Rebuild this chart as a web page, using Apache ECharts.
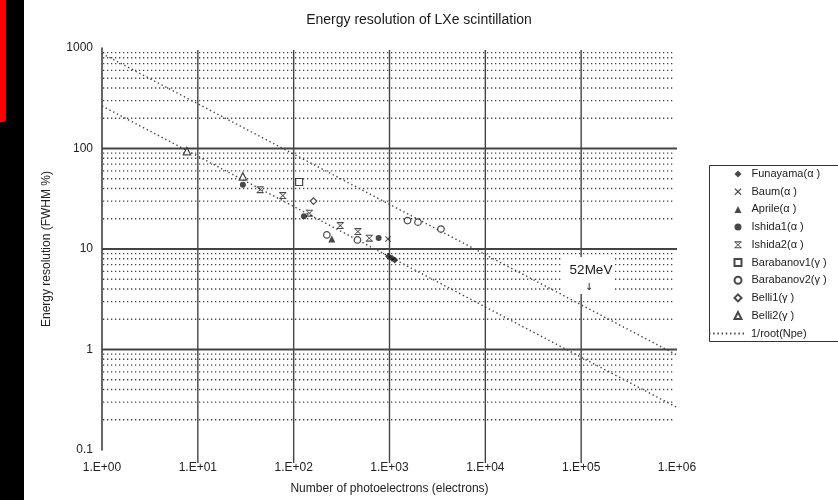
<!DOCTYPE html>
<html>
<head>
<meta charset="utf-8">
<script src="https://cdn.jsdelivr.net/npm/echarts@6/dist/echarts.min.js"></script>
<style>
  html, body { margin: 0; padding: 0; background: #fff; }
  #chart { width: 838px; height: 500px; }
</style>
</head>
<body>
<div id="chart"></div>
<script>
// Number of photoelectrons vs. energy resolution (FWHM %), per measurement
const funayama   = [[976, 8.45], [1062, 8.07], [1132, 7.76]];
const baum       = [[965, 12.6]];
const aprile     = [[250, 12.6]];
const ishida1    = [[29.5, 43.7], [128, 21.2], [770, 12.9]];
const ishida2    = [[44.7, 38.9], [77, 34], [146, 22.7], [306, 17.1], [468, 14.9], [615, 12.8]];
const barabanov1 = [[114, 46.4]];
const barabanov2 = [[222, 13.8], [463, 12.3], [1542, 19.2], [1982, 18.5], [3443, 15.8]];
const belli1     = [[161, 30]];
const belli2     = [[7.7, 94], [29.5, 52.8]];

// 1/root(Npe) reference lines (end points)
const rootNpeX     = [1, 1e6];
const rootNpeLower = [265, 0.265];
const rootNpeUpper = [880, 0.88];

// Axis ticks
const xTicks = [1, 10, 100, 1e3, 1e4, 1e5, 1e6];
const xTickLabels = ['1.E+00', '1.E+01', '1.E+02', '1.E+03', '1.E+04', '1.E+05', '1.E+06'];
const yTicks = [0.1, 1, 10, 100, 1000];
const yTickLabels = ['0.1', '1', '10', '100', '1000'];

// Grid lines
const xMajorLines = [10, 100, 1e3, 1e4, 1e5];
const yMajorLines = [1, 10, 100];
const yMinorLines = [];
[0.1, 1, 10, 100].forEach(d => { for (let m = 2; m <= 9; m++) yMinorLines.push(+(d * m).toPrecision(3)); });

const INK = '#1a1a1a';
const FONT = 'Liberation Sans';

const crossPath = 'path://M0,1.2L1.2,0L5,3.8L8.8,0L10,1.2L6.2,5L10,8.8L8.8,10L5,6.2L1.2,10L0,8.8L3.8,5Z';
const bowtiePath = 'path://M0,0H10V1.6H0Z M0,8.4H10V10H0Z M0.6,1.6L1.8,1.6L5,4.2L8.2,1.6L9.4,1.6L5.9,5L9.4,8.4L8.2,8.4L5,5.8L1.8,8.4L0.6,8.4L4.1,5Z';

function tickLabel(list, labels) {
  return v => {
    const i = list.findIndex(t => Math.abs(Math.log10(t) - Math.log10(v)) < 1e-6);
    return i >= 0 ? labels[i] : '';
  };
}

function scatter(name, data, symbol, size, open) {
  return {
    name, type: 'scatter', data, symbol, symbolSize: size, z: 5, symbolKeepAspect: true,
    itemStyle: open
      ? { color: '#fff', borderColor: INK, borderWidth: 1.2 }
      : { color: INK, borderColor: INK, borderWidth: 0 }
  };
}

const chart = echarts.init(document.getElementById('chart'), null, { renderer: 'canvas' });

const legendText = { fontFamily: FONT, fontSize: 11, color: '#222', lineHeight: 14 };

const option = {
  backgroundColor: '#fff',
  animation: false,
  title: {
    text: 'Energy resolution of LXe scintillation',
    left: 'center', top: 8,
    textStyle: { fontFamily: FONT, fontSize: 14, fontWeight: 'normal', color: '#1a1a1a' }
  },
  grid: { left: 102, right: 161, top: 48, bottom: 50, containLabel: false },
  xAxis: {
    type: 'log', logBase: 10, min: 1, max: 1e6,
    name: 'Number of photoelectrons (electrons)',
    nameLocation: 'middle', nameGap: 33,
    nameTextStyle: { fontFamily: FONT, fontSize: 12, color: '#222' },
    axisLine: { show: false }, axisTick: { show: false }, splitLine: { show: false },
    axisLabel: { fontFamily: FONT, fontSize: 12, color: '#222', margin: 12, formatter: tickLabel(xTicks, xTickLabels) }
  },
  yAxis: {
    type: 'log', logBase: 10, min: 0.1, max: 1000,
    name: 'Energy resolution (FWHM %)',
    nameLocation: 'middle', nameGap: 49,
    nameTextStyle: { fontFamily: FONT, fontSize: 12, color: '#222' },
    axisLine: { show: true, lineStyle: { color: '#333', width: 1.5 } },
    axisTick: { show: false }, splitLine: { show: false },
    axisLabel: { fontFamily: FONT, fontSize: 12, color: '#222', margin: 9, formatter: tickLabel(yTicks, yTickLabels) }
  },
  legend: [
    {
      data: ['Funayama(α )', 'Baum(α )', 'Aprile(α )', 'Ishida1(α )', 'Ishida2(α )',
             'Barabanov1(γ )', 'Barabanov2(γ )', 'Belli1(γ )', 'Belli2(γ )'],
      orient: 'vertical', left: 728.5, top: 162,
      itemWidth: 7, itemHeight: 7, itemGap: 3.7, symbolKeepAspect: true,
      textStyle: Object.assign({ padding: [0, 0, 0, 5] }, legendText)
    },
    {
      data: [{ name: '1/root(Npe)', itemStyle: { opacity: 0 } }],
      orient: 'vertical', left: 703, top: 321.5,
      itemWidth: 37, itemHeight: 6,
      textStyle: legendText
    }
  ],
  graphic: [
    // dark strip on the left edge
    { type: 'rect', left: 0, top: 0, z: 100, shape: { width: 24, height: 500 }, style: { fill: '#000' } },
    { type: 'rect', left: 0, top: 0, z: 101, shape: { width: 6, height: 122, r: [0, 0, 3, 0] }, style: { fill: '#ff0000' } },
    // legend frame
    { type: 'rect', left: 707, top: 163, z: 0, shape: { width: 140, height: 176 }, style: { fill: 'none', stroke: '#333', lineWidth: 1 } },
    // 52MeV annotation
    { type: 'rect', left: 563, top: 257, z: 100, shape: { width: 52, height: 37 }, style: { fill: '#fff' } },
    { type: 'text', x: 591, y: 270, z: 101, style: { text: '52MeV', fontFamily: FONT, fontSize: 13.5, fill: '#1a1a1a', align: 'center', verticalAlign: 'middle' } },
    { type: 'text', x: 589, y: 287, z: 101, style: { text: '↓', fontFamily: 'DejaVu Sans', fontSize: 10, fill: '#222', align: 'center', verticalAlign: 'middle' } }
  ],
  series: [
    // minor horizontal grid (dotted)
    {
      type: 'custom', silent: true, z: 1, clip: false,
      data: yMinorLines.map(v => [1, v]),
      encode: { x: 0, y: 1 },
      renderItem: (params, api) => {
        const a = api.coord([1, api.value(1)]);
        const b = api.coord([1e6, api.value(1)]);
        return { type: 'line', shape: { x1: a[0] + 1, y1: a[1], x2: b[0] - 2, y2: b[1] },
                 style: { stroke: '#444', lineWidth: 1.3, lineDash: [1.3, 2.7] } };
      }
    },
    // major horizontal grid
    {
      type: 'custom', silent: true, z: 2, clip: false,
      data: yMajorLines.map(v => [1, v]),
      encode: { x: 0, y: 1 },
      renderItem: (params, api) => {
        const a = api.coord([1, api.value(1)]);
        const b = api.coord([1e6, api.value(1)]);
        return { type: 'line', shape: { x1: a[0], y1: a[1], x2: b[0], y2: b[1] },
                 style: { stroke: '#444', lineWidth: 1.8 } };
      }
    },
    // vertical decade lines, extending below the plot as ticks
    {
      type: 'custom', silent: true, z: 2, clip: false,
      data: xMajorLines.map(v => [v, 1000]),
      encode: { x: 0, y: 1 },
      renderItem: (params, api) => {
        const a = api.coord([api.value(0), 1000]);
        const b = api.coord([api.value(0), 0.1]);
        return { type: 'line', shape: { x1: a[0], y1: a[1] + 2, x2: b[0], y2: b[1] + 13 },
                 style: { stroke: '#444', lineWidth: 1.4 } };
      }
    },
    {
      name: '1/root(Npe)', type: 'line', symbol: 'none', z: 3, silent: true,
      data: rootNpeX.map((x, i) => [x, rootNpeLower[i]]),
      lineStyle: { color: '#444', width: 1.4, type: [1.4, 2.8] }, itemStyle: { color: '#444' }
    },
    {
      name: '1/root(Npe)', type: 'line', symbol: 'none', z: 3, silent: true,
      data: rootNpeX.map((x, i) => [x, rootNpeUpper[i]]),
      lineStyle: { color: '#444', width: 1.4, type: [1.4, 2.8] }, itemStyle: { color: '#444' }
    },
    scatter('Funayama(α )', funayama, 'diamond', 7, false),
    scatter('Baum(α )', baum, crossPath, 6, false),
    scatter('Aprile(α )', aprile, 'triangle', 7, false),
    scatter('Ishida1(α )', ishida1, 'circle', 6, false),
    scatter('Ishida2(α )', ishida2, bowtiePath, 7, false),
    scatter('Barabanov1(γ )', barabanov1, 'rect', 7, true),
    scatter('Barabanov2(γ )', barabanov2, 'circle', 6.5, true),
    scatter('Belli1(γ )', belli1, 'diamond', 6.5, true),
    scatter('Belli2(γ )', belli2, 'triangle', 7.5, true)
  ]
};

chart.setOption(option);
</script>
</body>
</html>
